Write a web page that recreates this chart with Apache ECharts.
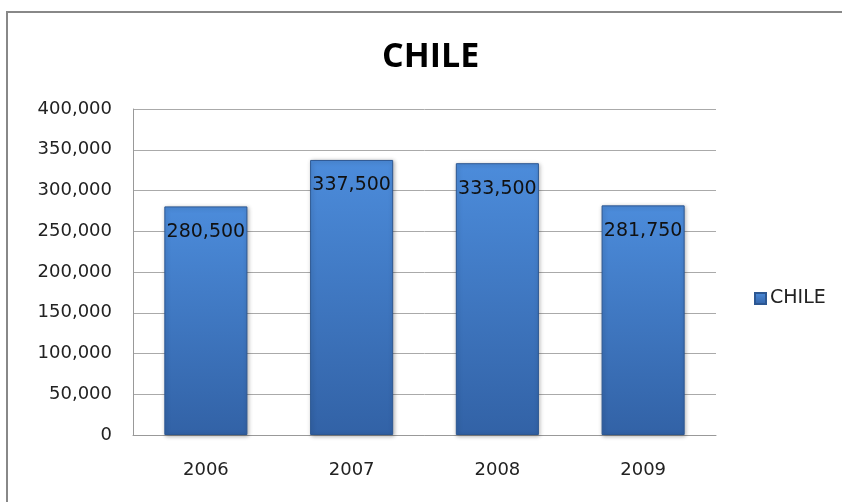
<!DOCTYPE html>
<html>
<head>
<meta charset="utf-8">
<script src="https://cdn.jsdelivr.net/npm/echarts@6/dist/echarts.min.js"></script>
<style>
  html, body { margin: 0; padding: 0; background: #fff; }
  #chart { width: 842px; height: 502px; }
</style>
</head>
<body>
<div id="chart"></div>
<script>
const years = ['2006', '2007', '2008', '2009'];
const chileValues = [280500, 337500, 333500, 281750];
const seriesName = 'CHILE';
const titleText = 'CHILE';

const labelFont = '"DejaVu Sans", "Noto Sans", sans-serif';
const titleFont = '"Open Sans", "Noto Sans", sans-serif';
const fmt = v => v.toLocaleString('en-US');

const barFill = new echarts.graphic.LinearGradient(0, 0, 0, 1, [
  { offset: 0, color: '#4c8cdb' },
  { offset: 1, color: '#3262a6' }
]);

const chart = echarts.init(document.getElementById('chart'), null, { renderer: 'canvas' });
chart.setOption({
  backgroundColor: '#fff',
  animation: false,
  title: {
    text: titleText,
    left: 377,
    top: 35,
    textStyle: { fontFamily: titleFont, fontSize: 34, fontWeight: 'bold', color: '#000' }
  },
  legend: {
    data: [seriesName],
    orient: 'vertical',
    left: 749,
    top: 284,
    itemWidth: 11,
    itemHeight: 11,
    itemGap: 6,
    icon: 'rect',
    textStyle: { fontFamily: labelFont, fontSize: 19, color: '#222', padding: [0, 0, 0, -1] }
  },
  grid: { left: 133, right: 126, top: 109, bottom: 67 },
  xAxis: {
    type: 'category',
    data: years,
    axisTick: { show: false },
    axisLine: { lineStyle: { color: '#999' } },
    axisLabel: { fontFamily: labelFont, fontSize: 18, color: '#222', margin: 26 }
  },
  yAxis: {
    type: 'value',
    min: 0,
    max: 400000,
    interval: 50000,
    axisLine: { show: true, lineStyle: { color: '#999' } },
    axisTick: { show: false },
    splitLine: { lineStyle: { color: '#aaa' } },
    axisLabel: { fontFamily: labelFont, fontSize: 18, color: '#222', margin: 21, formatter: fmt }
  },
  series: [{
    name: seriesName,
    type: 'bar',
    data: chileValues,
    barWidth: '57%',
    itemStyle: {
      color: barFill,
      borderColor: '#2c5792',
      borderWidth: 1,
      shadowColor: 'rgba(0,0,0,0.3)',
      shadowBlur: 4,
      shadowOffsetX: 1,
      shadowOffsetY: 1
    },
    label: {
      show: true,
      position: 'insideTop',
      distance: 16,
      fontFamily: labelFont,
      fontSize: 19,
      color: '#111',
      formatter: p => fmt(p.value)
    }
  }],
  graphic: [{
    type: 'rect',
    shape: { x: 7, y: 12, width: 900, height: 600 },
    style: { fill: 'none', stroke: '#888', lineWidth: 2 },
    silent: true
  }]
});
</script>
</body>
</html>
